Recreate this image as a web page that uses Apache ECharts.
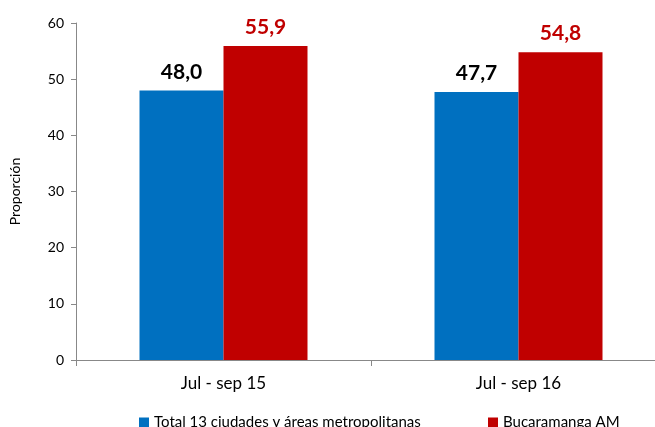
<!DOCTYPE html>
<html>
<head>
<meta charset="utf-8">
<script src="https://cdn.jsdelivr.net/npm/echarts@6/dist/echarts.min.js"></script>
<style>
  html, body { margin: 0; padding: 0; background: #fff; overflow: hidden; }
  #chart { width: 666px; height: 427px; }
</style>
</head>
<body>
<div id="chart"></div>
<script>
const categories = ['Jul - sep 15', 'Jul - sep 16']
const totalName = 'Total 13 ciudades y áreas metropolitanas'
const bucaName = 'Bucaramanga AM'
const totalValues = [48.0, 47.7]
const bucaValues = [55.9, 54.8]

const font = 'Lato, "Open Sans", sans-serif'
const fmt = p => p.value.toFixed(1).replace('.', ',')

const chart = echarts.init(document.getElementById('chart'))
chart.setOption({
  animation: false,
  textStyle: { fontFamily: font },
  grid: { left: 76, top: 23, bottom: 67, right: 0 },
  legend: [
    {
      data: [totalName], left: 134, top: 410, itemGap: 4,
      itemWidth: 10, itemHeight: 10, icon: 'rect',
      textStyle: { fontSize: 15, color: '#000', fontFamily: font }
    },
    {
      data: [bucaName], left: 483, top: 410,
      itemWidth: 10, itemHeight: 10, icon: 'rect',
      textStyle: { fontSize: 15, color: '#000', fontFamily: font }
    }
  ],
  xAxis: {
    type: 'category',
    data: categories,
    axisLine: { lineStyle: { color: '#888' } },
    axisTick: { show: true, length: 6, lineStyle: { color: '#888' } },
    axisLabel: { color: '#000', fontSize: 17, margin: 15 }
  },
  yAxis: {
    type: 'value',
    min: 0, max: 60, interval: 10,
    name: 'Proporción',
    nameLocation: 'middle',
    nameGap: 54,
    nameTextStyle: { fontSize: 14, color: '#000' },
    axisLine: { show: true, lineStyle: { color: '#888' } },
    axisTick: { show: true, length: 5, lineStyle: { color: '#888' } },
    axisLabel: { color: '#000', fontSize: 14, margin: 12 },
    splitLine: { show: false }
  },
  series: [
    {
      name: totalName, type: 'bar', data: totalValues,
      barWidth: 84, barGap: '0%',
      itemStyle: { color: '#0070c0' },
      label: { show: true, position: 'top', formatter: fmt, fontSize: 21, fontWeight: 'bold', color: '#000', distance: 8 }
    },
    {
      name: bucaName, type: 'bar', data: bucaValues,
      barWidth: 84, barGap: '0%',
      itemStyle: { color: '#c00000' },
      label: { show: true, position: 'top', formatter: fmt, fontSize: 21, fontWeight: 'bold', color: '#c00000', distance: 8 }
    }
  ]
})
</script>
</body>
</html>
